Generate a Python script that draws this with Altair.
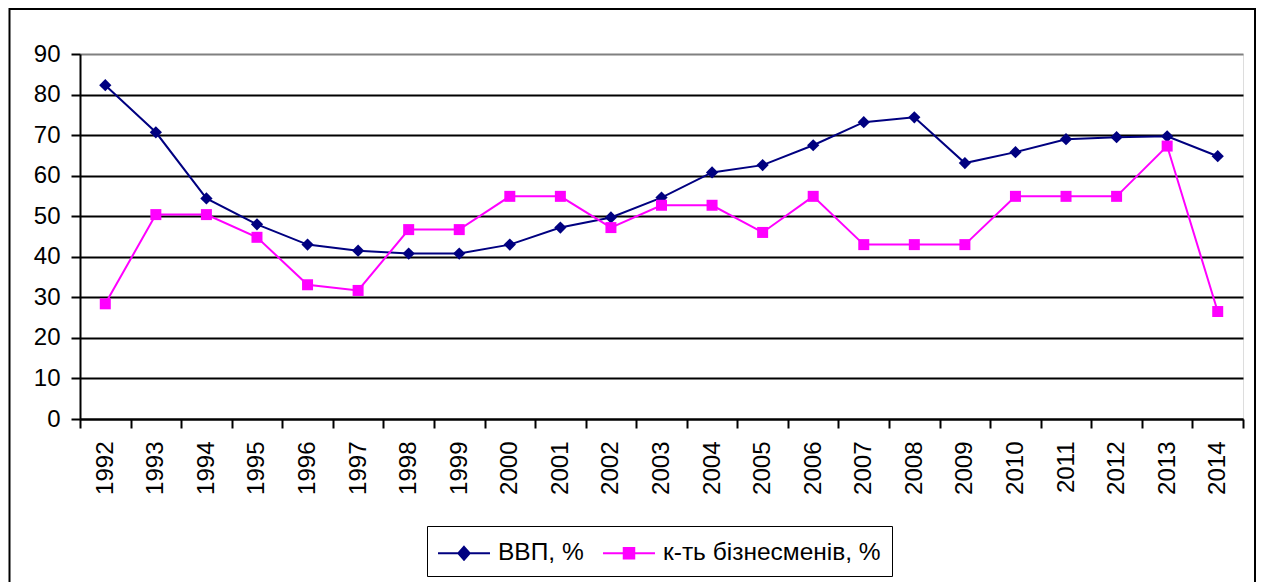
import altair as alt
import pandas as pd

years = ["1992", "1993", "1994", "1995", "1996", "1997", "1998", "1999", "2000",
         "2001", "2002", "2003", "2004", "2005", "2006", "2007", "2008", "2009",
         "2010", "2011", "2012", "2013", "2014"]
gdp = [82.3, 70.7, 54.4, 48.0, 43.0, 41.5, 40.8, 40.8, 43.0, 47.2, 49.7, 54.6,
       60.8, 62.6, 67.5, 73.2, 74.4, 63.1, 65.8, 69.0, 69.5, 69.7, 64.8]
biz = [28.4, 50.4, 50.4, 44.8, 33.1, 31.7, 46.7, 46.7, 54.9, 54.9, 47.2, 52.7,
       52.7, 46.0, 54.9, 43.0, 43.0, 43.0, 54.9, 54.9, 54.9, 67.3, 26.5]
series_names = ["ВВП, %", "к-ть бізнесменів, %"]
series_colors = ["#000080", "#FF00FF"]
series_shapes = ["diamond", "square"]
series_sizes = [150, 121]
y_ticks = [0, 10, 20, 30, 40, 50, 60, 70, 80, 90]

df = pd.DataFrame({
    "year": years * 2,
    "value": gdp + biz,
    "series": [series_names[0]] * len(years) + [series_names[1]] * len(years),
})

FONT = "Liberation Sans"
FS = 24
W, H = 1163, 365

test0 = f"datum.value === '{series_names[0]}'"
path_diamond = "M-1.733,0L1.733,0M0,-0.43L0.38,0L0,0.43L-0.38,0Z"
path_square = "M-1.733,0L1.733,0M-0.35,-0.35L0.35,-0.35L0.35,0.35L-0.35,0.35Z"

legend = alt.Legend(
    title=None,
    orient="none",
    legendX=347,
    legendY=472,
    direction="horizontal",
    columns=2,
    labelFont=FONT,
    labelFontSize=24.5,
    labelColor="black",
    labelOffset=18,
    symbolOffset=10,
    symbolSize=900,
    symbolStrokeWidth=2,
    symbolOpacity=1,
    symbolType={"expr": f"{test0} ? '{path_diamond}' : '{path_square}'"},
    symbolFillColor={"expr": f"{test0} ? '{series_colors[0]}' : '{series_colors[1]}'"},
    symbolStrokeColor={"expr": f"{test0} ? '{series_colors[0]}' : '{series_colors[1]}'"},
    columnPadding=15,
    padding=11,
    strokeColor="black",
    fillColor="white",
    cornerRadius=0,
    labelLimit=400,
)

x_enc = alt.X(
    "year:O",
    sort=years,
    scale=alt.Scale(type="band", paddingInner=0, paddingOuter=0),
    axis=alt.Axis(
        title=None, labelAngle=270, tickBand="extent", tickSize=9, tickWidth=2,
        tickColor="black", domainColor="black", domainWidth=2, labelFont=FONT,
        labelFontSize=FS, labelColor="black", labelPadding=13, grid=False,
        labelOverlap=False, labelFlush=False,
    ),
)
y_enc = alt.Y(
    "value:Q",
    scale=alt.Scale(domain=[0, 90], nice=False, zero=True),
    axis=alt.Axis(
        title=None, values=y_ticks, tickSize=9, tickWidth=2, tickColor="black",
        domainColor="black", domainWidth=2, labelFont=FONT, labelFontSize=FS,
        labelColor="black", labelPadding=11, grid=True, gridWidth=2,
        gridColor={"condition": {"test": "datum.value === 90", "value": "#808080"}, "value": "black"},
    ),
)
color_enc = alt.Color(
    "series:N",
    scale=alt.Scale(domain=series_names, range=series_colors),
    legend=legend,
)

base = alt.Chart(df).encode(x=x_enc, y=y_enc, color=color_enc)

layers = []
for i, name in enumerate(series_names):
    sub = base.transform_filter(alt.datum.series == name)
    layers.append(sub.mark_line(strokeWidth=2))
    layers.append(sub.mark_point(filled=True, opacity=1, shape=series_shapes[i],
                                 size=series_sizes[i]))

frame = alt.Chart(alt.Data(values=[{"f": 1}])).mark_rect(
    fill="transparent", stroke="black", strokeWidth=2
).encode(
    x=alt.value(-70.5), x2=alt.value(1175), y=alt.value(-45), y2=alt.value(600)
)

chart = alt.layer(frame, *layers).properties(
    width=W, height=H,
    autosize=alt.AutoSizeParams(type="none"),
    padding={"left": 72, "top": 46, "right": 13, "bottom": 163},
).configure_view(
    fill="#C0C0C0", stroke="#808080", strokeWidth=2
).configure_legend(
    strokeWidth=2
).configure(background="white")

chart.save("out.html", embed_options={"renderer": "svg", "actions": False})
